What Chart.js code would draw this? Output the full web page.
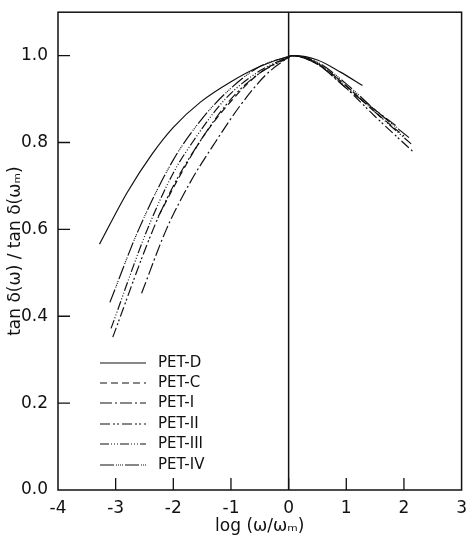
<!DOCTYPE html>
<html>
<head>
<meta charset="utf-8">
<script src="https://cdn.jsdelivr.net/npm/chart.js@4.4.1/dist/chart.umd.min.js"></script>
<style>
  html, body { margin: 0; padding: 0; background: #fff; }
  #wrap { width: 467px; height: 535px; }
</style>
</head>
<body>
<div id="wrap"><canvas id="lossChart"></canvas></div>
<script>
// normalised loss tangent vs reduced frequency, one curve per sample
const seriesNames = ['PET-D', 'PET-C', 'PET-I', 'PET-II', 'PET-III', 'PET-IV'];

const petD_x = [-3.28, -2.8, -2.36, -2.0, -1.53, -1.0, -0.5, 0.0, 0.1, 0.5, 0.9, 1.28];
const petD_y = [0.566, 0.685, 0.775, 0.835, 0.893, 0.94, 0.975, 0.998, 1.0, 0.99, 0.962, 0.931];

const petC_x = [-2.26, -1.9, -1.5, -1.0, -0.5, 0.0, 0.05, 0.5, 1.0, 1.5, 2.0];
const petC_y = [0.63, 0.72, 0.81, 0.895, 0.96, 0.997, 1.0, 0.982, 0.93, 0.87, 0.815];

const pet1_x = [-2.55, -2.12, -1.7, -1.3, -0.84, -0.4, 0.0, 0.05, 0.5, 1.0, 1.5, 1.9];
const pet1_y = [0.453, 0.60, 0.71, 0.795, 0.885, 0.955, 0.996, 1.0, 0.98, 0.925, 0.875, 0.835];

const pet2_x = [-3.05, -2.35, -2.0, -1.55, -1.0, -0.5, 0.0, 0.05, 0.5, 1.0, 1.5, 2.15];
const pet2_y = [0.352, 0.60, 0.70, 0.80, 0.90, 0.96, 0.996, 1.0, 0.98, 0.925, 0.86, 0.78];

const pet3_x = [-3.08, -2.45, -2.0, -1.67, -1.1, -0.5, 0.0, 0.05, 0.5, 1.0, 1.5, 2.14];
const pet3_y = [0.372, 0.60, 0.73, 0.80, 0.90, 0.965, 0.997, 1.0, 0.982, 0.93, 0.87, 0.795];

const pet4_x = [-3.1, -2.6, -2.0, -1.5, -1.0, -0.5, 0.0, 0.05, 0.5, 1.0, 1.5, 2.1];
const pet4_y = [0.432, 0.60, 0.76, 0.855, 0.925, 0.975, 0.998, 1.0, 0.985, 0.935, 0.875, 0.81];

const xTickValues = [-4, -3, -2, -1, 0, 1, 2, 3];
const yTickValues = [0.0, 0.2, 0.4, 0.6, 0.8, 1.0];

const lineDashes = [
    [],
    [7, 4],
    [12, 3, 2, 3],
    [10, 3, 2, 2, 2, 3],
    [9, 2, 1, 2, 1, 2, 1, 2],
    [14, 2, 1, 1, 1, 1, 1, 1, 1, 2]
];

const FONT = '"DejaVu Sans", sans-serif';

function toPoints(xs, ys) {
    return xs.map((x, i) => ({ x: x, y: ys[i] }));
}

const curves = [
    toPoints(petD_x, petD_y),
    toPoints(petC_x, petC_y),
    toPoints(pet1_x, pet1_y),
    toPoints(pet2_x, pet2_y),
    toPoints(pet3_x, pet3_y),
    toPoints(pet4_x, pet4_y)
];

// frame, centre line at x = 0, inward ticks and the inset key
const framePlugin = {
    id: 'frame',
    afterDraw(chart) {
        const { ctx, chartArea: a, scales } = chart;
        const xs = scales.x, ys = scales.y;
        ctx.save();
        ctx.strokeStyle = '#111';
        ctx.lineWidth = 1.5;
        ctx.setLineDash([]);
        ctx.strokeRect(a.left, a.top, a.right - a.left, a.bottom - a.top);

        const x0 = xs.getPixelForValue(0);
        ctx.beginPath();
        ctx.moveTo(x0, a.top);
        ctx.lineTo(x0, a.bottom);
        ctx.stroke();

        ctx.lineWidth = 1.3;
        ctx.beginPath();
        xTickValues.slice(1, -1).forEach(v => {
            const px = xs.getPixelForValue(v);
            ctx.moveTo(px, a.bottom);
            ctx.lineTo(px, a.bottom - 12);
        });
        yTickValues.slice(1).forEach(v => {
            const py = ys.getPixelForValue(v);
            ctx.moveTo(a.left, py);
            ctx.lineTo(a.left + 12, py);
        });
        ctx.stroke();

        // key
        const rowY = [363, 383, 403, 424, 444, 465];
        ctx.font = '15px ' + FONT;
        ctx.fillStyle = '#111';
        ctx.textBaseline = 'middle';
        chart.data.datasets.forEach((ds, i) => {
            ctx.lineWidth = 1.2;
            ctx.setLineDash(ds.borderDash);
            ctx.beginPath();
            ctx.moveTo(100, rowY[i]);
            ctx.lineTo(146, rowY[i]);
            ctx.stroke();
            ctx.setLineDash([]);
            ctx.fillText(ds.label, 158, rowY[i]);
        });
        ctx.restore();
    }
};

new Chart(document.getElementById('lossChart'), {
    type: 'line',
    data: {
        datasets: curves.map((pts, i) => ({
            label: seriesNames[i],
            data: pts,
            borderColor: '#111',
            borderWidth: 1.2,
            borderDash: lineDashes[i],
            pointRadius: 0,
            fill: false,
            cubicInterpolationMode: 'monotone'
        }))
    },
    options: {
        responsive: true,
        maintainAspectRatio: false,
        animation: false,
        layout: { padding: { top: 12, right: 4, left: 0, bottom: 0 } },
        plugins: {
            legend: { display: false },
            tooltip: { enabled: false }
        },
        scales: {
            x: {
                type: 'linear',
                min: -4,
                max: 3,
                grid: { display: false },
                border: { display: false },
                afterBuildTicks: scale => { scale.ticks = xTickValues.map(v => ({ value: v })); },
                afterFit: scale => { scale.height = 45; },
                ticks: {
                    padding: 0,
                    maxRotation: 0,
                    color: '#111',
                    font: { family: FONT, size: 17 },
                    callback: v => String(v)
                },
                title: {
                    display: true,
                    text: 'log (ω/ωₘ)',
                    color: '#111',
                    font: { family: FONT, size: 17, lineHeight: 1 },
                    padding: { top: 0, bottom: 0 }
                }
            },
            y: {
                min: 0,
                max: 1.1,
                grid: { display: false },
                border: { display: false },
                afterBuildTicks: scale => { scale.ticks = yTickValues.map(v => ({ value: v })); },
                afterFit: scale => { scale.width = 58; },
                ticks: {
                    padding: 2,
                    color: '#111',
                    font: { family: FONT, size: 17 },
                    callback: v => v.toFixed(1)
                },
                title: {
                    display: true,
                    text: 'tan δ(ω) / tan δ(ωₘ)',
                    color: '#111',
                    font: { family: FONT, size: 17 },
                    padding: { top: 5, bottom: 0 }
                }
            }
        }
    },
    plugins: [framePlugin]
});
</script>
</body>
</html>
